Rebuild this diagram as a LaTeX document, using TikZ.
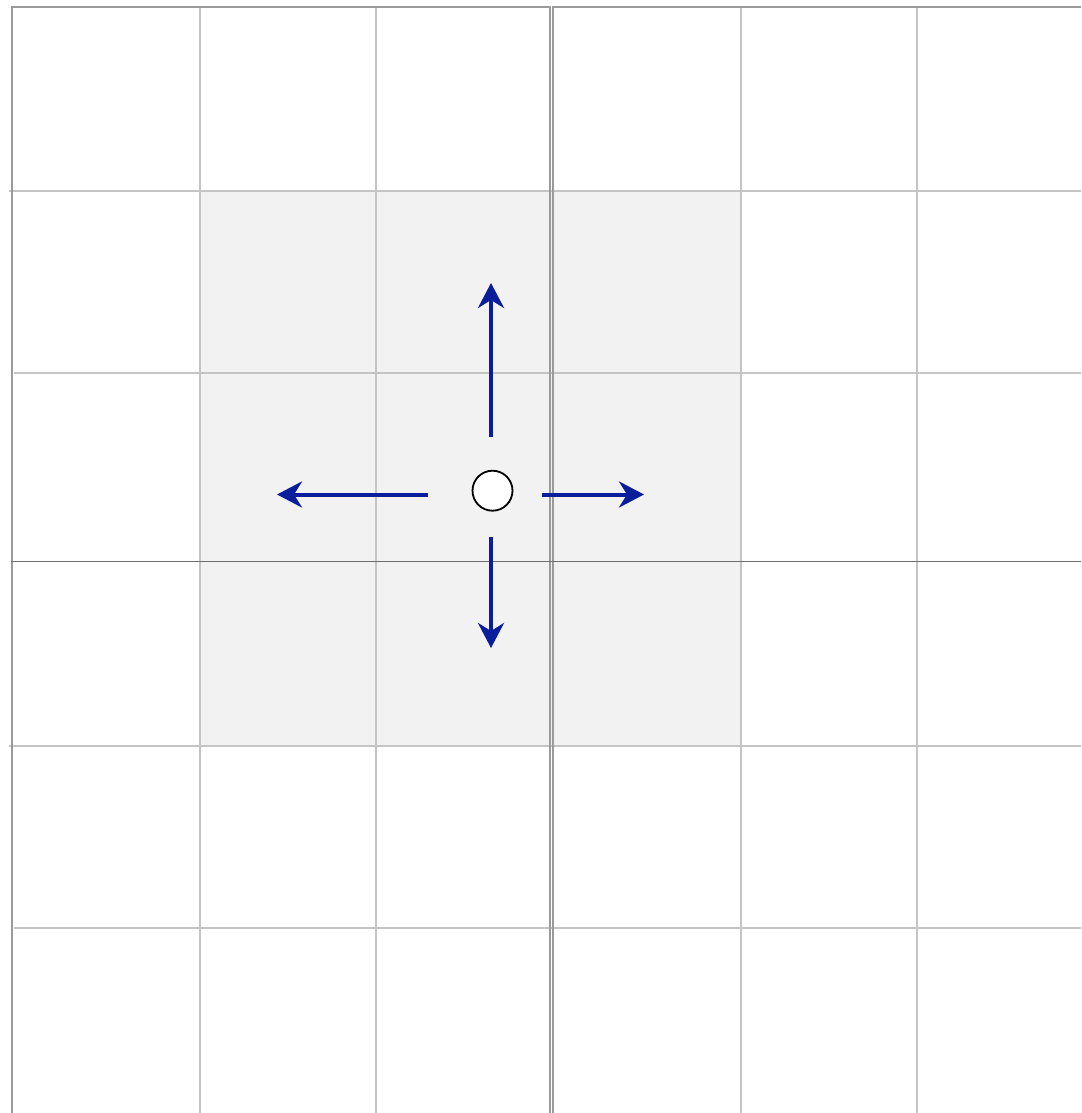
\documentclass[tikz,border=0pt]{standalone}
\usetikzlibrary{arrows.meta}
\definecolor{lightgrid}{HTML}{C4C4C4}
\definecolor{midgrid}{HTML}{9A9A9A}
\definecolor{darkgrid}{HTML}{6E6E6E}
\definecolor{cellshade}{HTML}{F2F2F2}
\definecolor{arrowblue}{HTML}{0A1E9C}
\tikzset{
  gridlight/.style={draw=lightgrid, line width=2.6pt},
  gridmid/.style={draw=midgrid, line width=2pt},
  griddark/.style={draw=darkgrid, line width=1.6pt},
  move/.style={draw=arrowblue, line width=4pt, -{Stealth[length=25pt,width=26pt,inset=8pt]}},
  cell/.style={circle, draw=black, line width=1.8pt, fill=white, minimum size=40pt, inner sep=0pt}
}
\begin{document}
\begin{tikzpicture}[x=1pt,y=-1pt]
\useasboundingbox (0,0) rectangle (1081,1113);
\fill[white] (0,0) rectangle (1081,1113);
% shaded block
\fill[cellshade] (200,191) rectangle (741,746);
% light grid lines
\foreach \xx in {200,376,741,917} \draw[gridlight] (\xx,7) -- (\xx,1113);
\draw[gridlight] (9,191) -- (1081,191);
\draw[gridlight] (14,373) -- (1081,373);
\draw[gridlight] (9,746) -- (1081,746);
\draw[gridlight] (14,928) -- (1081,928);
% outer and middle lines
\draw[gridmid] (11.5,6) -- (11.5,1113);
\draw[gridmid] (11.5,7) -- (550.5,7);
\draw[gridmid] (553.2,7) -- (1081,7);
\draw[gridmid] (550.3,6) -- (550.3,1113);
\draw[gridmid] (553.2,6) -- (553.2,1113);
\draw[griddark] (11,561.5) -- (1081,561.5);
% centre cell and moves
\node[cell] (c) at (492.5,490.7) {};
\coordinate (us) at (491,437);
\coordinate (ue) at (491,283);
\coordinate (ds) at (491,537);
\coordinate (de) at (491,648);
\coordinate (ls) at (428,494.5);
\coordinate (le) at (277,494.5);
\coordinate (rs) at (542,494.5);
\coordinate (re) at (644,494.5);
\draw[move] (us) -- (ue);
\draw[move] (ds) -- (de);
\draw[move] (ls) -- (le);
\draw[move] (rs) -- (re);
\end{tikzpicture}
\end{document}
